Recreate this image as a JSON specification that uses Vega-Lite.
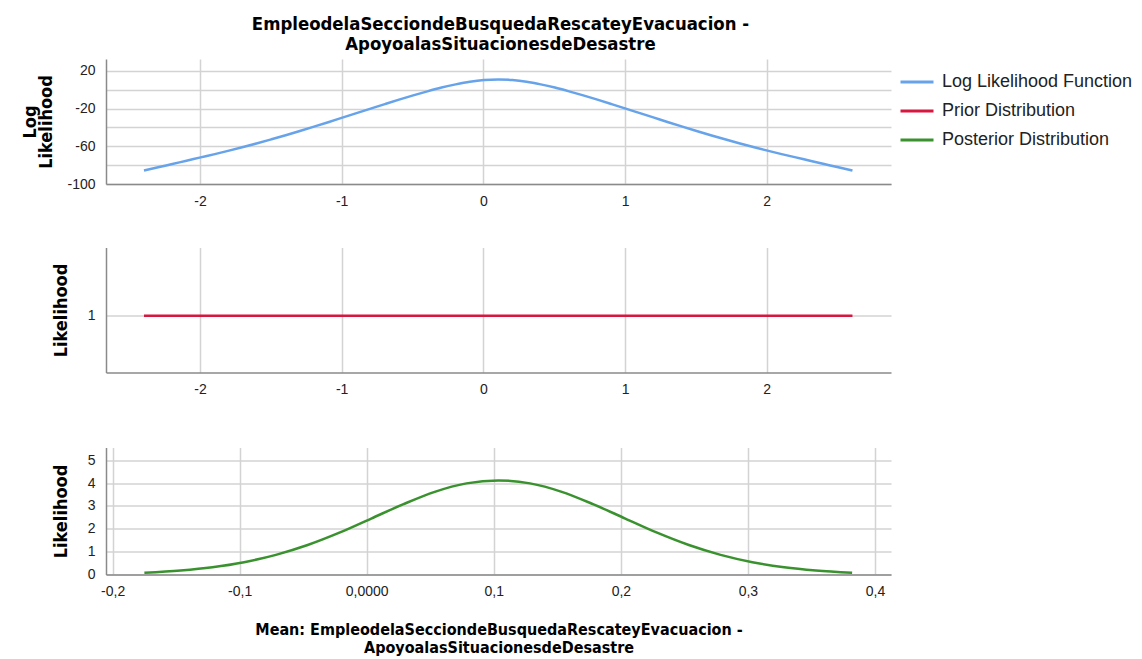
{
  "$schema": "https://vega.github.io/schema/vega-lite/v6.json",
  "padding": {"left": 21, "top": 14, "right": 5, "bottom": 5},
  "background": "white",
  "title": {
    "text": ["EmpleodelaSecciondeBusquedaRescateyEvacuacion -", "ApoyoalasSituacionesdeDesastre"],
    "font": "Liberation Sans Narrow, DejaVu Sans Condensed, sans-serif",
    "fontSize": 18.4,
    "fontWeight": "bold",
    "color": "#000000",
    "anchor": "middle",
    "lineHeight": 20,
    "offset": 6,
    "dx": -77
  },
  "datasets": {
    "ll": [
      {"mu": -2.395, "value": -85.7, "series": "Log Likelihood Function"},
      {"mu": -2.295, "value": -82.3, "series": "Log Likelihood Function"},
      {"mu": -2.195, "value": -78.8, "series": "Log Likelihood Function"},
      {"mu": -2.095, "value": -75.3, "series": "Log Likelihood Function"},
      {"mu": -1.995, "value": -71.8, "series": "Log Likelihood Function"},
      {"mu": -1.895, "value": -68.3, "series": "Log Likelihood Function"},
      {"mu": -1.795, "value": -64.6, "series": "Log Likelihood Function"},
      {"mu": -1.695, "value": -60.8, "series": "Log Likelihood Function"},
      {"mu": -1.595, "value": -56.8, "series": "Log Likelihood Function"},
      {"mu": -1.495, "value": -52.6, "series": "Log Likelihood Function"},
      {"mu": -1.395, "value": -48.3, "series": "Log Likelihood Function"},
      {"mu": -1.295, "value": -43.8, "series": "Log Likelihood Function"},
      {"mu": -1.195, "value": -39.2, "series": "Log Likelihood Function"},
      {"mu": -1.095, "value": -34.5, "series": "Log Likelihood Function"},
      {"mu": -0.995, "value": -29.7, "series": "Log Likelihood Function"},
      {"mu": -0.895, "value": -24.9, "series": "Log Likelihood Function"},
      {"mu": -0.795, "value": -20.1, "series": "Log Likelihood Function"},
      {"mu": -0.695, "value": -15.3, "series": "Log Likelihood Function"},
      {"mu": -0.595, "value": -10.6, "series": "Log Likelihood Function"},
      {"mu": -0.495, "value": -6.1, "series": "Log Likelihood Function"},
      {"mu": -0.395, "value": -1.8, "series": "Log Likelihood Function"},
      {"mu": -0.295, "value": 2.2, "series": "Log Likelihood Function"},
      {"mu": -0.195, "value": 5.6, "series": "Log Likelihood Function"},
      {"mu": -0.095, "value": 8.4, "series": "Log Likelihood Function"},
      {"mu": 0.005, "value": 10.2, "series": "Log Likelihood Function"},
      {"mu": 0.105, "value": 10.8, "series": "Log Likelihood Function"},
      {"mu": 0.205, "value": 10.2, "series": "Log Likelihood Function"},
      {"mu": 0.305, "value": 8.4, "series": "Log Likelihood Function"},
      {"mu": 0.405, "value": 5.6, "series": "Log Likelihood Function"},
      {"mu": 0.505, "value": 2.2, "series": "Log Likelihood Function"},
      {"mu": 0.605, "value": -1.8, "series": "Log Likelihood Function"},
      {"mu": 0.705, "value": -6.1, "series": "Log Likelihood Function"},
      {"mu": 0.805, "value": -10.6, "series": "Log Likelihood Function"},
      {"mu": 0.905, "value": -15.3, "series": "Log Likelihood Function"},
      {"mu": 1.005, "value": -20.1, "series": "Log Likelihood Function"},
      {"mu": 1.105, "value": -24.9, "series": "Log Likelihood Function"},
      {"mu": 1.205, "value": -29.7, "series": "Log Likelihood Function"},
      {"mu": 1.305, "value": -34.5, "series": "Log Likelihood Function"},
      {"mu": 1.405, "value": -39.2, "series": "Log Likelihood Function"},
      {"mu": 1.505, "value": -43.8, "series": "Log Likelihood Function"},
      {"mu": 1.605, "value": -48.3, "series": "Log Likelihood Function"},
      {"mu": 1.705, "value": -52.6, "series": "Log Likelihood Function"},
      {"mu": 1.805, "value": -56.8, "series": "Log Likelihood Function"},
      {"mu": 1.905, "value": -60.8, "series": "Log Likelihood Function"},
      {"mu": 2.005, "value": -64.6, "series": "Log Likelihood Function"},
      {"mu": 2.105, "value": -68.3, "series": "Log Likelihood Function"},
      {"mu": 2.205, "value": -71.8, "series": "Log Likelihood Function"},
      {"mu": 2.305, "value": -75.3, "series": "Log Likelihood Function"},
      {"mu": 2.405, "value": -78.8, "series": "Log Likelihood Function"},
      {"mu": 2.505, "value": -82.3, "series": "Log Likelihood Function"},
      {"mu": 2.605, "value": -85.7, "series": "Log Likelihood Function"}
    ],
    "prior": [
      {"mu": -2.395, "value": 1, "series": "Prior Distribution"},
      {"mu": 2.605, "value": 1, "series": "Prior Distribution"}
    ],
    "post": [
      {"mu": -0.175, "value": 0.08, "series": "Posterior Distribution"},
      {"mu": -0.1465, "value": 0.18, "series": "Posterior Distribution"},
      {"mu": -0.1215, "value": 0.32, "series": "Posterior Distribution"},
      {"mu": -0.0965, "value": 0.54, "series": "Posterior Distribution"},
      {"mu": -0.0715, "value": 0.86, "series": "Posterior Distribution"},
      {"mu": -0.0465, "value": 1.29, "series": "Posterior Distribution"},
      {"mu": -0.0215, "value": 1.83, "series": "Posterior Distribution"},
      {"mu": 0.0035, "value": 2.45, "series": "Posterior Distribution"},
      {"mu": 0.0285, "value": 3.07, "series": "Posterior Distribution"},
      {"mu": 0.0535, "value": 3.62, "series": "Posterior Distribution"},
      {"mu": 0.0785, "value": 3.99, "series": "Posterior Distribution"},
      {"mu": 0.1035, "value": 4.12, "series": "Posterior Distribution"},
      {"mu": 0.1285, "value": 3.99, "series": "Posterior Distribution"},
      {"mu": 0.1535, "value": 3.62, "series": "Posterior Distribution"},
      {"mu": 0.1785, "value": 3.07, "series": "Posterior Distribution"},
      {"mu": 0.2035, "value": 2.45, "series": "Posterior Distribution"},
      {"mu": 0.2285, "value": 1.83, "series": "Posterior Distribution"},
      {"mu": 0.2535, "value": 1.29, "series": "Posterior Distribution"},
      {"mu": 0.2785, "value": 0.86, "series": "Posterior Distribution"},
      {"mu": 0.3035, "value": 0.54, "series": "Posterior Distribution"},
      {"mu": 0.3285, "value": 0.32, "series": "Posterior Distribution"},
      {"mu": 0.3535, "value": 0.18, "series": "Posterior Distribution"},
      {"mu": 0.382, "value": 0.08, "series": "Posterior Distribution"}
    ]
  },
  "vconcat": [
    {
      "width": 785,
      "height": 125,
      "data": {"name": "ll"},
      "mark": {"type": "line", "strokeWidth": 2.5, "interpolate": "monotone"},
      "encoding": {
        "x": {
          "field": "mu", "type": "quantitative",
          "scale": {"domain": [-2.663, 2.877], "nice": false, "zero": false},
          "axis": {"values": [-2, -1, 0, 1, 2], "labelExpr": "toString(datum.value)", "title": null}
        },
        "y": {
          "field": "value", "type": "quantitative",
          "scale": {"domain": [-100, 32.5], "nice": false, "zero": false},
          "axis": {"values": [-100, -80, -60, -40, -20, 0, 20], "labelExpr": "abs(datum.value % 40) == 20 ? toString(datum.value) : ''", "title": ["Log", "Likelihood"], "titleLineHeight": 16, "titlePadding": 11, "labelPadding": 11}
        },
        "color": {
          "field": "series", "type": "nominal",
          "scale": {"domain": ["Log Likelihood Function", "Prior Distribution", "Posterior Distribution"], "range": ["#67a3ea", "#d6173f", "#3a922f"]},
          "legend": {"title": null, "orient": "none", "legendX": 793, "legendY": 5}
        }
      }
    },
    {
      "vconcat": [
        {
          "width": 785,
          "height": 125,
          "data": {"name": "prior"},
          "mark": {"type": "line", "strokeWidth": 2.5},
          "encoding": {
            "x": {
              "field": "mu", "type": "quantitative",
              "scale": {"domain": [-2.663, 2.877], "nice": false, "zero": false},
              "axis": {"values": [-2, -1, 0, 1, 2], "labelExpr": "toString(datum.value)", "title": null}
            },
            "y": {
              "field": "value", "type": "quantitative",
              "scale": {"domain": [0, 2.2], "nice": false, "zero": false},
              "axis": {"values": [1], "title": "Likelihood", "titlePadding": 17, "labelPadding": 11}
            },
            "color": {"field": "series", "type": "nominal"}
          }
        },
        {
          "width": 785,
          "height": 127,
          "data": {"name": "post"},
          "mark": {"type": "line", "strokeWidth": 2.5, "interpolate": "monotone"},
          "encoding": {
            "x": {
              "field": "mu", "type": "quantitative",
              "scale": {"domain": [-0.2052, 0.4126], "nice": false, "zero": false},
              "axis": {
                "values": [-0.2, -0.1, 0, 0.1, 0.2, 0.3, 0.4],
                "labelExpr": "datum.value == 0 ? '0,0000' : replace(toString(round(datum.value * 10) / 10), '.', ',')",
                "title": ["Mean: EmpleodelaSecciondeBusquedaRescateyEvacuacion -", "ApoyoalasSituacionesdeDesastre"],
                "titleFontSize": 16,
                "titleLineHeight": 18,
                "titlePadding": 23
              }
            },
            "y": {
              "field": "value", "type": "quantitative",
              "scale": {"domain": [0, 5.56], "nice": false, "zero": false},
              "axis": {"values": [0, 1, 2, 3, 4, 5], "title": "Likelihood", "titlePadding": 17, "labelPadding": 11}
            },
            "color": {"field": "series", "type": "nominal"}
          }
        }
      ],
      "spacing": 51
    }
  ],
  "spacing": 39.5,
  "config": {
    "view": {"stroke": null},
    "axis": {
      "gridColor": "#d3d3d3",
      "gridWidth": 1.5,
      "domainColor": "#8a8a8a",
      "domainWidth": 1.5,
      "ticks": false,
      "labelFont": "Liberation Sans",
      "labelFontSize": 14,
      "labelColor": "#222222",
      "labelPadding": 10,
      "titleFont": "Liberation Sans Narrow, DejaVu Sans Condensed, sans-serif",
      "titleFontSize": 18,
      "titleFontWeight": "bold",
      "titleColor": "#000000",
      "titlePadding": 14
    },
    "legend": {
      "symbolType": "stroke",
      "symbolSize": 1089,
      "symbolStrokeWidth": 3,
      "labelFont": "Liberation Sans",
      "labelFontSize": 18,
      "labelColor": "#222222",
      "labelOffset": 7,
      "rowPadding": 2,
      "labelLimit": 300
    }
  }
}
